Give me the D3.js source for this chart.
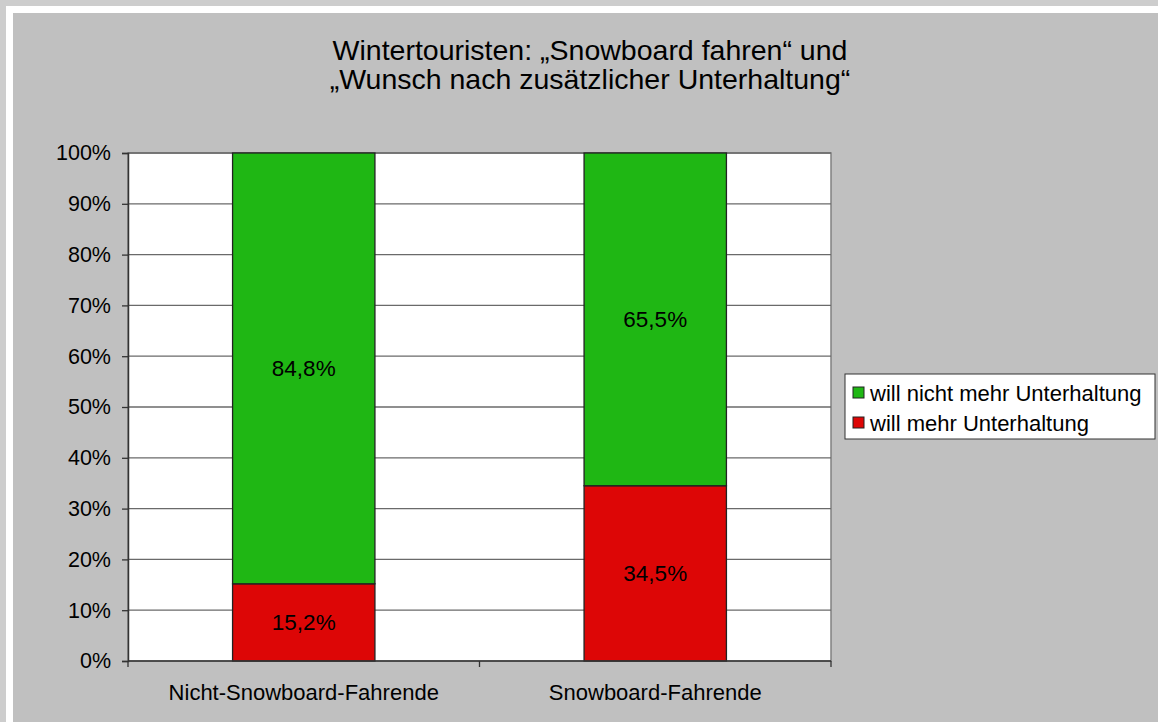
<!DOCTYPE html>
<html>
<head>
<meta charset="utf-8">
<script src="https://cdn.jsdelivr.net/npm/d3@7"></script>
<style>
html,body{margin:0;padding:0;background:#cdcdcd;}
svg{display:block;font-family:"Liberation Sans",Arial,sans-serif;}
</style>
</head>
<body>
<svg id="chart" width="1158" height="722"></svg>
<script>
var categories=['Nicht-Snowboard-Fahrende','Snowboard-Fahrende']
var seriesNames=['will mehr Unterhaltung','will nicht mehr Unterhaltung']
var mehr=[15.2,34.5]
var nichtMehr=[84.8,65.5]
var yTicks=[0,10,20,30,40,50,60,70,80,90,100]
var colors=['#dd0606','#1fb714']

var svg=d3.select('#chart')
var W=1158,H=722
// frame
svg.append('rect').attr('x',6).attr('y',6).attr('width',W-6).attr('height',H-6).attr('fill','#ffffff')
svg.append('rect').attr('x',13).attr('y',13).attr('width',W-13).attr('height',H-13).attr('fill','#c0c0c0')

var plot={left:128,right:831,top:153,bottom:661}

svg.append('text').attr('x',590).attr('y',60).attr('text-anchor','middle')
    .attr('font-size',28.5).attr('fill','#000')
    .selectAll('tspan').data(['Wintertouristen: \u201eSnowboard fahren\u201c und','\u201eWunsch nach zus\u00e4tzlicher Unterhaltung\u201c'])
    .join('tspan').attr('x',590).attr('dy',(d,i)=>i?29:0).text(d=>d)

var x=d3.scaleBand().domain(categories).range([plot.left,plot.right]).paddingInner(0.595).paddingOuter(0.2975)
var y=d3.scaleLinear().domain([0,100]).range([plot.bottom,plot.top])

svg.append('rect').attr('x',plot.left).attr('y',plot.top).attr('width',plot.right-plot.left).attr('height',plot.bottom-plot.top)
    .attr('fill','#fff').attr('stroke','#808080').attr('stroke-width',1.5)

svg.append('g').selectAll('line').data(yTicks.filter(d=>d>0)).join('line')
    .attr('x1',plot.left).attr('x2',plot.right).attr('y1',d=>y(d)).attr('y2',d=>y(d))
    .attr('stroke','#6a6a6a').attr('stroke-width',1.3)

var stackData=categories.map((c,i)=>({cat:c,mehr:mehr[i],nicht:nichtMehr[i]}))
var stack=d3.stack().keys(['mehr','nicht'])(stackData)

var g=svg.append('g')
stack.forEach((s,k)=>{
    g.selectAll('rect.s'+k).data(s).join('rect')
        .attr('x',d=>x(d.data.cat)).attr('width',x.bandwidth())
        .attr('y',d=>y(d[1])).attr('height',d=>y(d[0])-y(d[1]))
        .attr('fill',colors[k]).attr('stroke','#222').attr('stroke-width',1.3)
    g.selectAll('text.s'+k).data(s).join('text')
        .attr('x',d=>x(d.data.cat)+x.bandwidth()/2)
        .attr('y',d=>y((d[0]+d[1])/2)+8)
        .attr('text-anchor','middle').attr('font-size',22.5).attr('fill','#000')
        .text(d=>d3.format('.1f')(d[1]-d[0]).replace('.',',')+'%')
})

// y axis
var ya=svg.append('g').attr('transform',`translate(${plot.left},0)`)
    .call(d3.axisLeft(y).tickValues(yTicks).tickSize(6).tickPadding(11).tickFormat(d=>d+'%'))
ya.select('.domain').attr('stroke','#333').attr('stroke-width',1.5)
ya.selectAll('.tick line').attr('stroke','#333').attr('stroke-width',1.3)
ya.selectAll('.tick text').attr('font-size',21.5).attr('fill','#000').attr('font-family','"Liberation Sans",Arial,sans-serif')

// x axis
var xa=svg.append('g').attr('transform',`translate(0,${plot.bottom})`)
xa.append('line').attr('x1',plot.left).attr('x2',plot.right).attr('stroke','#333').attr('stroke-width',1.5)
var bounds=[plot.left,plot.left+(plot.right-plot.left)/2,plot.right]
xa.selectAll('line.t').data(bounds).join('line').attr('class','t')
    .attr('x1',d=>d).attr('x2',d=>d).attr('y1',0).attr('y2',6).attr('stroke','#333').attr('stroke-width',1.3)
xa.selectAll('text').data(categories).join('text')
    .attr('x',d=>x(d)+x.bandwidth()/2).attr('y',39).attr('text-anchor','middle')
    .attr('font-size',22).attr('fill','#000').text(d=>d)

// legend
var lg=svg.append('g').attr('transform','translate(845,374)')
lg.append('rect').attr('width',310).attr('height',65).attr('fill','#fff').attr('stroke','#333').attr('stroke-width',1)
var legendItems=[{name:seriesNames[1],color:colors[1]},{name:seriesNames[0],color:colors[0]}]
var li=lg.selectAll('g.item').data(legendItems).join('g').attr('class','item')
    .attr('transform',(d,i)=>`translate(8,${20+i*30})`)
li.append('rect').attr('x',0).attr('y',-7).attr('width',11).attr('height',11)
    .attr('fill',d=>d.color).attr('stroke','#222').attr('stroke-width',1)
li.append('text').attr('x',17).attr('y',7).attr('font-size',22).attr('fill','#000').text(d=>d.name)
</script>
</body>
</html>
